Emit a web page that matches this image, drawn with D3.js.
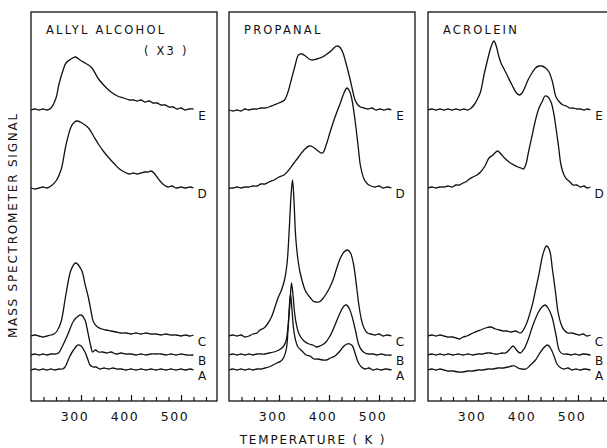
<!DOCTYPE html>
<html>
<head>
<meta charset="utf-8">
<script src="https://cdn.jsdelivr.net/npm/d3@7"></script>
<style>
  html, body { margin: 0; padding: 0; background: #fff; }
  svg { display: block; }
  text { font-family: "DejaVu Sans", sans-serif; fill: #111; }
</style>
</head>
<body>
<div id="chart"></div>
<script>
// compounds, one per panel
const panels = ["ALLYL ALCOHOL", "PROPANAL", "ACROLEIN"];
const traceNames = ["A", "B", "C", "D", "E"];
// vertical offset of each trace (signal units)
const traceOffsets = [31, 46, 65, 213, 291];
const tickLabels = [300, 400, 500];

// [temperature K, signal] — allyl alcohol (x3)
const allylA = [[200,0],[208,1],[216,0],[224,1],[232,0],[240,1],[248,0],[256,1],[263,1],[268,3],[272,7],[277,13],[285,20],[294,25],[300,24],[308,18],[314,10],[318,5],[324,3],[330,3],[338,1],[346,2],[355,1],[364,2],[372,1],[380,1],[390,0],[400,1],[410,0],[420,1],[430,0],[440,1],[450,0],[460,1],[470,0],[480,1],[490,0],[500,1],[510,0],[518,1],[525,0]];
const allylB = [[200,0],[208,1],[216,0],[224,1],[232,0],[240,1],[248,1],[255,2],[262,8],[274,21],[284,33],[292,38],[300,40],[308,35],[312,27],[316,17],[320,8],[323,3],[329,5],[335,3],[343,3],[351,2],[360,3],[370,1],[380,2],[390,1],[400,1],[410,0],[420,1],[430,0],[440,1],[450,1],[460,1],[470,0],[480,1],[490,0],[500,1],[510,0],[525,0]];
const allylC = [[200,0],[208,1],[216,0],[224,-1],[232,0],[240,1],[246,2],[252,5],[260,14],[270,42],[280,66],[289,73],[301,66],[308,52],[315,38],[320,25],[325,14],[333,9],[342,7],[350,6],[360,5],[370,4],[380,3],[390,3],[400,2],[410,3],[420,2],[430,3],[440,2],[450,2],[460,1],[470,2],[480,1],[490,1],[500,0],[510,1],[518,0],[525,1]];
const allylD = [[200,0],[208,-1],[216,0],[224,1],[232,0],[240,2],[250,7],[260,18],[270,43],[280,61],[287,66],[293,67],[302,65],[315,60],[325,52],[336,43],[346,36],[356,30],[367,24],[377,19],[387,16],[397,14],[405,15],[412,14],[420,15],[428,16],[434,16],[440,17],[446,15],[452,11],[458,7],[466,3],[474,1],[482,2],[490,0],[500,1],[510,0],[518,1],[525,0]];
const allylE = [[200,0],[208,1],[216,0],[224,1],[232,0],[240,2],[250,12],[256,26],[263,38],[270,47],[280,51],[289,53],[298,50],[308,47],[315,45],[322,42],[335,31],[349,23],[360,18],[373,14],[385,12],[397,10],[405,10],[412,9],[420,10],[428,8],[436,9],[444,7],[452,7],[460,5],[468,5],[476,3],[484,3],[492,1],[500,2],[508,0],[516,1],[525,1]];

// propanal
const propA = [[200,0],[208,1],[216,0],[224,1],[232,0],[240,1],[248,0],[256,1],[264,1],[272,2],[280,3],[288,5],[296,7],[304,9],[310,13],[315,22],[318,40],[321,66],[323,76],[326,60],[329,42],[333,30],[338,23],[346,19],[354,15],[362,14],[370,11],[378,11],[387,10],[395,10],[403,12],[412,14],[422,19],[430,24],[436,26],[442,26],[447,24],[452,17],[458,8],[465,3],[472,1],[480,2],[488,0],[496,1],[504,0],[512,1],[525,0]];
const propB = [[200,0],[208,1],[216,0],[224,1],[232,0],[240,1],[248,0],[256,1],[264,1],[272,1],[280,2],[290,3],[300,5],[308,8],[314,14],[318,28],[322,52],[325,72],[328,60],[331,43],[335,30],[340,21],[350,14],[360,11],[368,10],[375,8],[382,9],[392,12],[402,19],[412,30],[422,42],[430,49],[435,50],[441,46],[448,35],[454,22],[459,11],[465,5],[472,2],[480,1],[488,1],[496,0],[504,1],[512,0],[525,0]];
const propC = [[200,0],[208,1],[216,0],[224,1],[232,-1],[240,0],[248,2],[256,3],[262,6],[270,8],[277,12],[285,19],[290,26],[298,38],[305,46],[311,56],[316,72],[320,102],[324,140],[327,156],[330,135],[333,102],[337,80],[342,64],[353,45],[363,38],[368,35],[373,34],[380,34],[387,37],[400,47],[408,56],[415,67],[422,77],[430,84],[437,86],[443,83],[449,72],[455,50],[460,30],[465,16],[470,8],[477,3],[484,2],[492,1],[500,2],[508,0],[516,1],[525,0]];
const propD = [[200,0],[208,0],[216,1],[224,0],[232,1],[240,1],[248,2],[256,2],[264,4],[272,4],[280,6],[290,8],[300,11],[310,13],[318,17],[330,25],[339,31],[350,38],[360,42],[368,41],[378,37],[387,35],[395,44],[401,54],[408,65],[415,75],[422,84],[430,95],[436,100],[441,97],[446,88],[452,68],[458,43],[463,22],[470,9],[477,4],[484,2],[492,1],[500,2],[508,0],[516,1],[525,0]];
const propE = [[200,0],[208,-1],[216,0],[224,-1],[232,1],[240,0],[248,1],[256,1],[264,2],[272,2],[280,3],[290,5],[300,7],[311,10],[318,18],[325,31],[332,44],[339,55],[346,56],[353,54],[360,51],[366,50],[375,51],[387,53],[396,56],[404,59],[412,63],[418,64],[423,62],[428,57],[435,45],[442,31],[447,20],[452,10],[458,5],[463,3],[470,2],[478,1],[486,2],[494,0],[502,1],[510,0],[518,1],[525,0]];

// acrolein
const acrA = [[200,0],[208,1],[216,0],[224,1],[232,0],[240,-1],[250,-1],[260,-2],[270,-2],[280,-1],[290,-1],[300,0],[310,0],[320,1],[330,1],[340,2],[350,2],[360,3],[368,4],[374,4],[380,2],[388,1],[396,1],[405,5],[415,10],[425,18],[433,23],[439,25],[445,22],[452,14],[458,6],[466,2],[472,1],[480,2],[488,0],[496,1],[504,0],[512,1],[525,0]];
const acrB = [[200,0],[208,1],[216,0],[224,1],[232,0],[240,1],[250,0],[260,1],[270,0],[280,1],[290,0],[300,1],[310,1],[318,2],[325,2],[333,1],[340,1],[348,2],[355,2],[362,5],[370,9],[377,5],[384,2],[392,6],[400,15],[410,30],[420,42],[428,48],[434,50],[440,47],[448,38],[456,20],[463,4],[470,1],[478,1],[486,0],[494,1],[502,0],[510,1],[525,0]];
const acrC = [[200,0],[208,1],[216,0],[224,1],[232,0],[240,-1],[248,-1],[256,-2],[263,-3],[270,-1],[278,0],[290,3],[305,6],[315,8],[325,9],[335,7],[343,6],[350,5],[358,5],[365,4],[375,5],[385,3],[395,10],[408,30],[416,48],[422,62],[430,82],[437,90],[443,86],[449,66],[455,44],[460,24],[466,12],[472,6],[480,3],[488,3],[495,2],[503,1],[510,2],[518,0],[525,1]];
const acrD = [[200,0],[208,1],[216,0],[224,1],[232,1],[240,2],[248,1],[256,3],[263,3],[270,5],[275,6],[283,9],[290,11],[298,13],[305,16],[314,22],[322,30],[330,33],[339,37],[346,34],[353,30],[365,25],[372,23],[380,21],[386,20],[391,19],[396,24],[401,36],[408,52],[415,68],[422,80],[428,86],[434,92],[440,91],[446,86],[451,76],[456,60],[461,42],[466,23],[472,13],[477,9],[484,6],[490,3],[497,3],[505,1],[512,2],[518,0],[525,1]];
const acrE = [[200,0],[208,1],[216,0],[224,1],[232,0],[240,1],[248,0],[256,1],[264,0],[272,1],[279,0],[284,1],[292,5],[300,12],[305,18],[312,35],[320,52],[326,63],[332,69],[337,63],[342,53],[346,47],[353,40],[360,33],[368,25],[377,17],[383,15],[388,17],[395,24],[401,31],[408,37],[415,42],[422,44],[428,44],[435,42],[442,38],[449,28],[456,13],[463,8],[470,5],[477,4],[483,2],[490,2],[497,1],[505,1],[512,0],[518,1],[525,0]];

const series = [
  [allylA, allylB, allylC, allylD, allylE],
  [propA, propB, propC, propD, propE],
  [acrA, acrB, acrC, acrD, acrE]
];

const W = 607, H = 448;
const plotTop = 12, plotBottom = 401;
const panelLeft = [31, 229, 428];
const panelW = 186;

const svg = d3.select("#chart").append("svg")
  .attr("width", W).attr("height", H);

const y = d3.scaleLinear().domain([0, plotBottom - plotTop]).range([plotBottom, plotTop]);

panels.forEach((name, p) => {
  const x0 = panelLeft[p];
  const x = d3.scaleLinear().domain([200, 572]).range([x0, x0 + panelW]);
  const g = svg.append("g");

  // cadre
  g.append("rect")
    .attr("x", x0).attr("y", plotTop)
    .attr("width", p === 2 ? 220 : panelW).attr("height", plotBottom - plotTop)
    .attr("fill", "none").attr("stroke", "#111").attr("stroke-width", 1.3);

  // graduations vers l'intérieur
  const ax = g.append("g")
    .attr("transform", `translate(0,${plotBottom})`)
    .call(d3.axisBottom(x).tickValues(d3.range(225, 551, 25)).tickSizeInner(-4).tickSizeOuter(0).tickFormat(""));
  ax.select(".domain").remove();
  ax.selectAll(".tick line").attr("stroke", "#111").attr("stroke-width", 1.2)
    .filter(d => d % 100 === 0).attr("y2", -6);

  g.selectAll(".tlab").data(tickLabels).enter().append("text")
    .attr("x", d => x(d) - 6).attr("y", 421)
    .attr("text-anchor", "middle")
    .attr("font-size", "12.5px").attr("letter-spacing", "1.5px")
    .text(d => d);

  // titre
  g.append("text")
    .attr("x", x0 + 15).attr("y", 34)
    .attr("font-size", "11.5px").attr("letter-spacing", "2.2px")
    .text(name);
  if (p === 0) {
    g.append("text")
      .attr("x", x0 + 113).attr("y", 55)
      .attr("font-size", "11.5px").attr("letter-spacing", "2.2px")
      .attr("xml:space", "preserve")
      .text("( X3 )");
  }

  const line = d3.line()
    .x(d => x(d[0]))
    .curve(d3.curveCatmullRom.alpha(0.5));

  series[p].forEach((pts, i) => {
    const off = traceOffsets[i];
    g.append("path")
      .datum(pts)
      .attr("d", line.y(d => y(d[1] + off)))
      .attr("fill", "none").attr("stroke", "#111").attr("stroke-width", 1.3);
    g.append("text")
      .attr("x", x(542)).attr("y", y(off) + 10)
      .attr("text-anchor", "middle")
      .attr("font-size", "12px")
      .text(traceNames[i]);
  });
});

svg.append("text")
  .attr("x", 313).attr("y", 444)
  .attr("text-anchor", "middle")
  .attr("font-size", "12px").attr("letter-spacing", "1.8px")
  .attr("xml:space", "preserve")
  .text("TEMPERATURE ( K )");

svg.append("text")
  .attr("transform", "translate(17,225) rotate(-90)")
  .attr("text-anchor", "middle")
  .attr("font-size", "12px").attr("letter-spacing", "1.8px")
  .text("MASS SPECTROMETER SIGNAL");
</script>
</body>
</html>
